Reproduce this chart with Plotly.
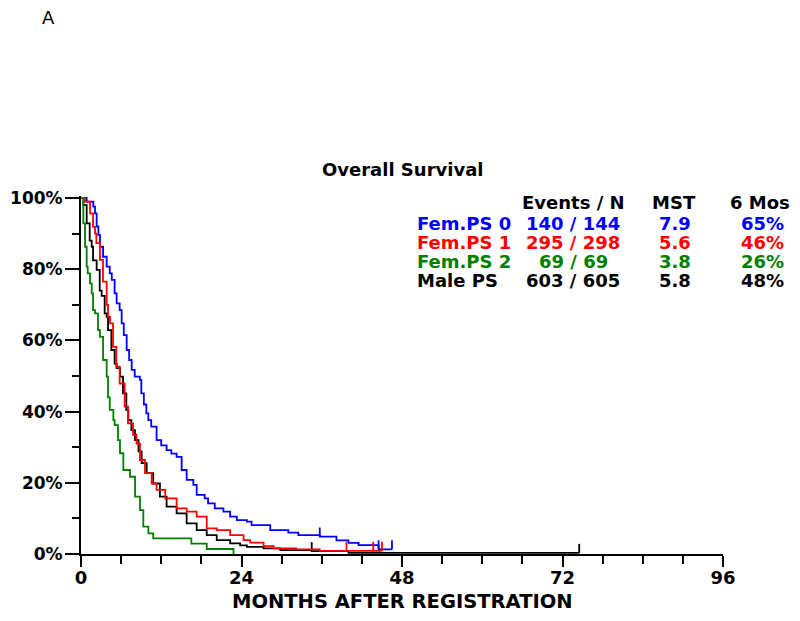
import plotly.graph_objects as go

# ---------------- data ----------------
months_ticks = [0, 24, 48, 72, 96]

blue_t = [0, 0.85, 1.84, 2.1, 2.34, 2.6, 2.84, 3.3, 3.84, 4.3, 4.6, 5.03, 5.33, 5.78, 6.08, 6.4, 6.83,
          7.2, 7.58, 8.03, 8.8, 9.02, 9.4, 9.77, 10.07, 10.5, 11.3, 12.0, 12.8, 13.5, 14.3, 15.05, 15.8,
          16.8, 17.3, 18.5, 19.0, 20.0, 21.3, 22.3, 23.3, 24.8, 25.5, 28.3, 31.0, 32.5, 35.7, 38.2,
          40.0, 41.5, 44.5, 46.5]
blue_s = [100, 99, 97.6, 95.7, 92, 89.6, 86.3, 83.5, 80.7, 78.8, 77, 73.2, 70.4, 68.5, 64.8, 61.5, 57.3,
          54.5, 51.7, 49.8, 48.9, 45.1, 42, 39.5, 37.6, 35.8, 32, 30.5, 29.2, 28.2, 27.3, 23.6, 20.8,
          19.4, 16.6, 15.6, 14.2, 12.8, 11.9, 10.5, 9.5, 9.1, 8.1, 6.7, 6.0, 5.3, 4.9, 3.8,
          3.1, 2.5, 1.3, 1.3]
blue_censor = [35.7, 44.5, 46.5]

red_t = [0, 0.6, 1.35, 1.8, 2.1, 2.3, 2.84, 3.29, 3.84, 4.04, 4.34, 4.79, 5.28, 5.78, 6.53, 7.03, 7.78,
         8.3, 8.82, 9.57, 10.57, 11.3, 12.6, 14.3, 15.8, 17.3, 18.8, 20.3, 22.3, 24.3, 25.3, 27.3,
         28.8, 32.2, 35.7, 45.0]
red_s = [100, 99, 95.7, 91.9, 90, 87.3, 82.6, 76.5, 70, 66.6, 64.8, 58.2, 52.6, 47.9, 41.4, 36.7, 33.5,
         31, 26.4, 22.7, 19.8, 18, 15.6, 12.8, 11.9, 10.5, 7.2, 6.7, 5.3, 3.9, 3.2, 2.2,
         1.6, 1.3, 0.9, 0.9]
red_censor = [39.7, 43.7, 45.0]

green_t = [0, 0.35, 0.6, 0.85, 1.0, 1.35, 1.6, 1.8, 2.1, 2.54, 2.84, 3.3, 3.84, 4.04, 4.3, 4.84, 5.03,
           5.53, 5.83, 6.33, 7.33, 8.08, 8.82, 9.32, 10.07, 10.8, 16.5, 18.8, 22.8]
green_s = [100, 92.9, 86.3, 80.7, 78.8, 76, 73.2, 68.5, 67.6, 62.9, 61, 54.5, 49.8, 44, 40.5, 37.6, 36.2,
           32, 28.3, 23.6, 21.7, 16.1, 12.3, 7.7, 5.8, 4.4, 2.9, 1.4, 0]
green_censor = []

black_t = [0, 0.35, 0.85, 1.3, 1.6, 1.8, 2.34, 2.8, 3.09, 3.54, 3.84, 4.04, 4.54, 5.03, 5.33, 5.83, 6.28,
           6.78, 7.08, 7.53, 8.07, 8.6, 9.07, 9.82, 10.8, 11.8, 12.8, 14.3, 15.8, 17.3, 18.8, 20.3, 22.3,
           23.8, 24.8, 27.3, 29.8, 34.5, 40.0, 74.5]
black_s = [100, 98, 92.9, 88, 86.3, 82.5, 79.8, 74, 72.5, 67.6, 66.6, 62.9, 57.3, 53.5, 52.2, 49.8, 45.1,
           40.4, 37.6, 34.8, 32, 28.8, 25.5, 22.7, 19.8, 16.1, 13.3, 11.4, 8.6, 6.7, 5.3, 3.9, 3.0,
           2.4, 2.0, 1.6, 1.1, 0.8, 0.3, 0.3]
black_censor = [34.5, 74.5]

groups = ["Fem.PS 0", "Fem.PS 1", "Fem.PS 2", "Male PS"]
events_n = ["140 / 144", "295 / 298", "69 / 69", "603 / 605"]
mst = ["7.9", "5.6", "3.8", "5.8"]
six_mos = ["65%", "46%", "26%", "48%"]
colors = ["#0000FF", "#FF0000", "#008000", "#000000"]

curves = [(blue_t, blue_s, blue_censor), (red_t, red_s, red_censor),
          (green_t, green_s, green_censor), (black_t, black_s, black_censor)]

# ---------------- layout geometry (page pixels; the page body has an 8px margin) ----------------
OFF = 8
W, H = 800 - 2 * OFF, 621 - 2 * OFF
X0, X1 = 81 - OFF, 723 - OFF          # x=0 and x=96 months
Y0, Y100 = 554 - OFF, 198 - OFF       # 0% and 100%
TOP = Y100 - 2
px_per_pct = (Y0 - Y100) / 100.0
y_top_val = (Y0 - TOP) / px_per_pct

def py2paper(py):  # py in page pixels
    return (Y0 - (py - OFF)) / (Y0 - TOP)

def px2paper(px):  # px in page pixels
    return ((px - OFF) - X0) / (X1 - X0)

FONT = "DejaVu Sans"

def surv_at(ts, ss, tc):
    val = ss[0]
    for t, s in zip(ts, ss):
        if t <= tc:
            val = s
    return val

fig = go.Figure()
order = [3, 0, 1, 2]
for i in order:
    ts, ss, cs = curves[i]
    fig.add_trace(go.Scatter(x=ts, y=ss, mode="lines", line=dict(color=colors[i], width=1.8, shape="hv"),
                             name=groups[i], showlegend=False, hoverinfo="skip"))
    if cs:
        tick_off = 4.5 / px_per_pct
        fig.add_trace(go.Scatter(x=cs, y=[surv_at(ts, ss, c) + tick_off for c in cs], mode="markers",
                                 marker=dict(symbol="line-ns", size=6.5, color=colors[i],
                                             line=dict(color=colors[i], width=1.8)),
                                 showlegend=False, hoverinfo="skip", cliponaxis=False))

annotations = []
annotations.append(dict(text="A", x=px2paper(48), y=py2paper(17), xref="paper", yref="paper",
                        showarrow=False, font=dict(family=FONT, size=18, color="black"),
                        xanchor="center", yanchor="middle"))
annotations.append(dict(text="Overall Survival", x=px2paper(402), y=py2paper(169), xref="paper", yref="paper",
                        showarrow=False, font=dict(family=FONT, size=18, color="black", weight="bold"),
                        xanchor="center", yanchor="middle"))
# x-axis title placed as an annotation for exact vertical position
annotations.append(dict(text="MONTHS AFTER REGISTRATION", x=px2paper(402), y=py2paper(601), xref="paper",
                        yref="paper", showarrow=False,
                        font=dict(family=FONT, size=19.5, color="black", weight="bold"),
                        xanchor="center", yanchor="middle", borderpad=0))
TFS = 18
hdr_y = py2paper(202)
for txt, xp, anc in [("Events / N", 573, "center"), ("MST", 674, "center"), ("6 Mos", 791, "right")]:
    annotations.append(dict(text=txt, x=px2paper(xp), y=hdr_y, xref="paper", yref="paper", showarrow=False,
                            font=dict(family=FONT, size=TFS, color="black", weight="bold"),
                            xanchor=anc, yanchor="middle", borderpad=0))
row_y = [223, 242, 261, 280]
for k in range(4):
    yy = py2paper(row_y[k])
    for txt, xp, anc in [(groups[k], 416, "left"), (events_n[k], 573, "center"),
                         (mst[k], 675, "center"), (six_mos[k], 785, "right")]:
        annotations.append(dict(text=txt, x=px2paper(xp), y=yy, xref="paper", yref="paper", showarrow=False,
                                font=dict(family=FONT, size=TFS, color=colors[k], weight="bold"),
                                xanchor=anc, yanchor="middle", borderpad=0))

fig.update_layout(
    width=W, height=H, autosize=False,
    margin=dict(l=X0, r=W - X1, t=TOP, b=H - Y0, pad=0),
    plot_bgcolor="white", paper_bgcolor="white",
    showlegend=False,
    annotations=annotations,
    xaxis=dict(range=[0, 96], tickmode="array", tickvals=months_ticks, ticktext=[str(v) for v in months_ticks],
               automargin=False, ticklabelstandoff=-4,
               showgrid=False, zeroline=False, showline=True, linecolor="black", linewidth=1.5,
               ticks="outside", ticklen=11, tickwidth=2, tickcolor="black",
               minor=dict(dtick=6, tick0=0, ticks="outside", ticklen=8, tickwidth=2, tickcolor="black", showgrid=False),
               tickfont=dict(family=FONT, size=18, color="black", weight="bold")),
    yaxis=dict(range=[0, y_top_val], tickmode="array", tickvals=[0, 20, 40, 60, 80, 100],
               ticktext=["0%", "20%", "40%", "60%", "80%", "100%"],
               automargin=False, ticklabelstandoff=-1,
               showgrid=False, zeroline=False, showline=True, linecolor="black", linewidth=2,
               ticks="outside", ticklen=14, tickwidth=2, tickcolor="black",
               minor=dict(tickvals=[10, 30, 50, 70, 90], ticks="outside", ticklen=7, tickwidth=2,
                          tickcolor="black", showgrid=False),
               tickfont=dict(family=FONT, size=17, color="black", weight="bold")),
)

fig.write_html("out.html")
